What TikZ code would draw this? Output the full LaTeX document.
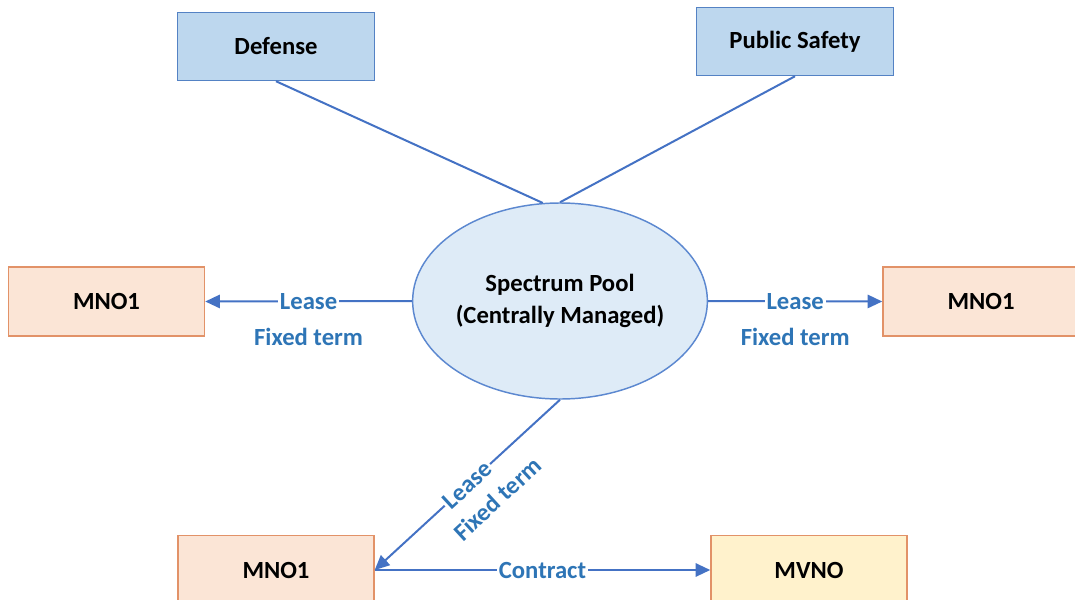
\documentclass[tikz,border=0pt]{standalone}
\usepackage{fontspec}
\setmainfont{Carlito}
\usetikzlibrary{arrows.meta,shapes.geometric,calc}
\definecolor{bluefill}{RGB}{189,215,238}
\definecolor{blueedge}{RGB}{84,130,196}
\definecolor{poolfill}{RGB}{222,235,247}
\definecolor{pooledge}{RGB}{92,136,208}
\definecolor{orangefill}{RGB}{251,229,214}
\definecolor{orangeedge}{RGB}{226,146,104}
\definecolor{yellowfill}{RGB}{255,242,204}
\definecolor{linkblue}{RGB}{68,114,196}
\definecolor{labelblue}{RGB}{46,117,182}
\tikzset{
  every node/.style={font=\fontsize{18.5}{23.5}\selectfont\bfseries},
  userbox/.style={draw=blueedge, fill=bluefill, line width=1.1pt,
    minimum width=147.5pt, minimum height=51pt, inner sep=0pt},
  opbox/.style={draw=orangeedge, fill=orangefill, line width=1.1pt,
    minimum width=147pt, minimum height=52pt, inner sep=0pt},
  vnobox/.style={opbox, fill=yellowfill},
  poolshape/.style={ellipse, draw=pooledge, fill=poolfill, line width=1.1pt,
    minimum width=220.5pt, minimum height=147pt, inner sep=0pt, align=center},
  link/.style={draw=linkblue, line width=1.5pt},
  lease/.style={link, -{Triangle[length=11pt,width=10pt]}},
  onlabel/.style={fill=white, text=labelblue, inner sep=1.5pt},
  offlabel/.style={text=labelblue, inner sep=1pt}
}
\begin{document}
\begin{tikzpicture}[x=0.75pt, y=-0.75pt]
\useasboundingbox (0,0) rectangle (1075,600);
\begin{scope}
\clip (0,0) rectangle (1075,600);

% stakeholder boxes
\node[userbox] (defense) at (276,46.5) {Defense};
\node[userbox] (safety)  at (795,41.5) {Public Safety};

% central pool
\node[poolshape] (pool) at (560,301) {Spectrum Pool\\(Centrally Managed)};

% operators
\node[opbox]  (mnoL) at (106.5,301.5) {MNO1};
\node[opbox]  (mnoR) at (981,301.5)   {MNO1};
\node[opbox]  (mnoB) at (276,570)     {MNO1};
\node[vnobox] (mvno) at (809,570)     {MVNO};

% links to the pool
\draw[link] (defense.south) -- (pool.100);
\draw[link] (safety.south) -- (pool.north);

% leases
\draw[lease] (pool.west) -- node[onlabel, pos=0.5] {Lease}
  node[offlabel, pos=0.5, yshift=-27pt] {Fixed term} (mnoL.east);
\draw[lease] (pool.east) -- node[onlabel, pos=0.5] {Lease}
  node[offlabel, pos=0.5, yshift=-27pt] {Fixed term} (mnoR.west);
\draw[lease] (pool.south) -- node[onlabel, sloped, pos=0.5] {Lease}
  coordinate[pos=0.45] (ftB) (mnoB.east);
\node[offlabel, rotate=42.6] (fixedB)
  at ($(ftB)!23pt!90:(mnoB.east)$) {Fixed term};

% contract
\draw[lease] (mnoB.east) -- node[onlabel, pos=0.5] {Contract} (mvno.west);
\end{scope}
\end{tikzpicture}
\end{document}
